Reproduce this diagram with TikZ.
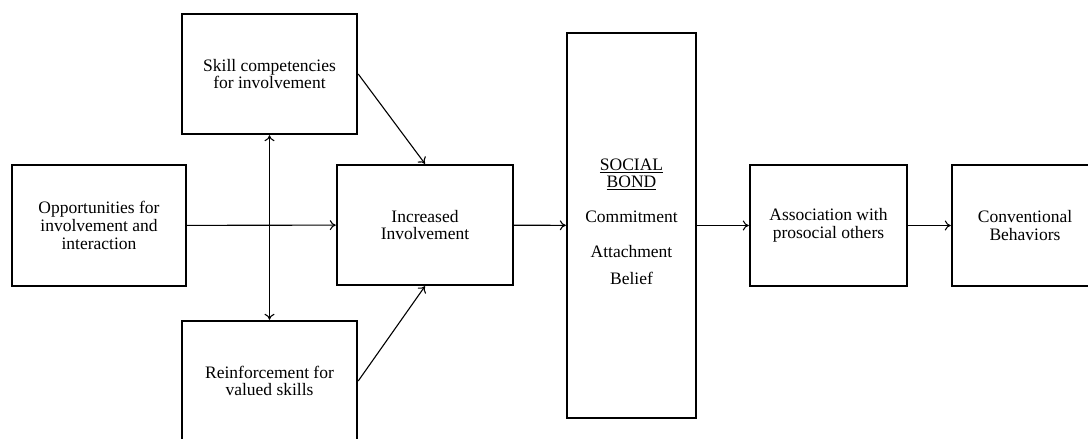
\documentclass[tikz,border=0pt]{standalone}
\usepackage{fontspec}
\setmainfont{Liberation Serif}
\usetikzlibrary{arrows.meta}
\begin{document}
\begin{tikzpicture}[x=1pt,y=1pt,
  box/.style={draw, line width=2.4pt, minimum width=#1, align=center, inner sep=0pt,
    font=\fontsize{17.5}{17.8}\selectfont},
  conn/.style={line width=1.1pt, -{To[length=6pt,width=10pt]}},
  dconn/.style={line width=1.1pt, {To[length=6pt,width=10pt]}-{To[length=6pt,width=10pt]}}]
\useasboundingbox (0,0) rectangle (1088,439);
\clip (0,0) rectangle (1088,439);
\fill[white] (0,0) rectangle (1088,439);
\node[box=174pt, minimum height=121pt] (opp) at (99,213.5) {Opportunities for\\involvement and\\interaction};
\node[box=175pt, minimum height=120pt] (skill) at (269.5,365) {Skill competencies\\for involvement};
\node[box=175pt, minimum height=120pt] (reinf) at (269.5,58) {Reinforcement for\\valued skills};
\node[box=176pt, minimum height=120pt] (inc) at (425,214) {Increased\\Involvement};
\node[box=129pt, minimum height=385pt, font=\fontsize{17.5}{17.5}\selectfont] (bond) at (631.5,213.5)
  {\underline{SOCIAL}\\\underline{BOND}\\[17pt]Commitment\\[18pt]Attachment\\[9pt]Belief\\[-9.5pt]};
\node[box=157pt, minimum height=121pt] (assoc) at (828.5,213.5) {Association with\\prosocial others};
\node[box=146pt, minimum height=121pt] (conv) at (1025,213.5) {Conventional\\Behaviors};
\draw[conn] (opp) -- (inc);
\draw[dconn] (skill.south) -- (reinf.north);
\draw[conn] (skill.east) -- (inc.north);
\draw[conn] (reinf.east) -- (inc.south);
\draw[conn] (inc) -- (bond);
\draw[conn] (bond) -- (assoc);
\draw[conn] (assoc) -- (conv);
\end{tikzpicture}
\end{document}
